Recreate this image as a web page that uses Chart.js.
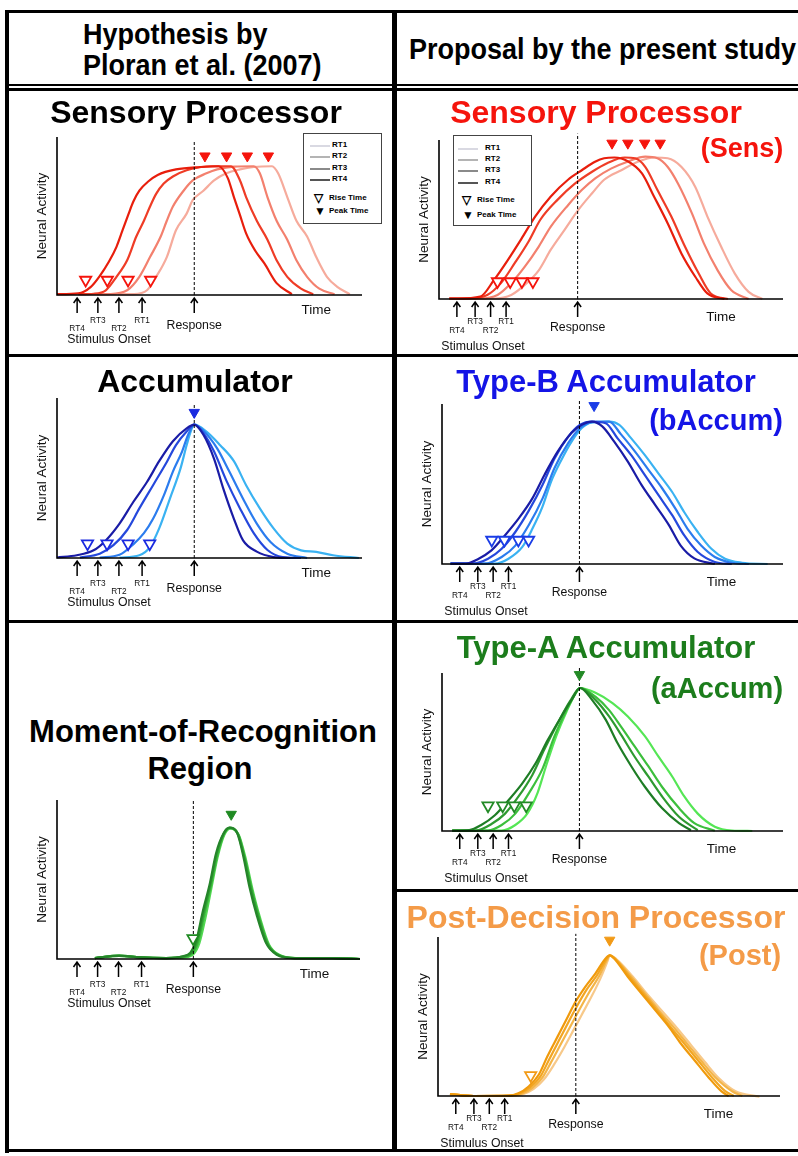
<!DOCTYPE html>
<html>
<head>
<meta charset="utf-8">
<script src="https://cdn.jsdelivr.net/npm/chart.js@4.4.1/dist/chart.umd.min.js"></script>
<style>
  body { margin: 0; background: #fff; }
  #fig { position: relative; width: 798px; height: 1156px; overflow: hidden; font-family: "Liberation Sans", Arial, Helvetica, sans-serif; }
  .ln { position: absolute; background: #000; z-index: 4; }
  .t { position: absolute; white-space: nowrap; font-weight: bold; line-height: 1; transform: translate(-50%, -50%); z-index: 3; }
  .h { position: absolute; white-space: nowrap; font-weight: bold; line-height: 1; font-size: 30px; transform-origin: left center; transform: translateY(-50%) scaleX(0.9); }
  canvas { position: absolute; z-index: 1; }
  .lg { position: absolute; border: 1px solid #444; background: #fff; z-index: 2; font-size: 8px; font-weight: bold; }
  .lg div { position: absolute; white-space: nowrap; line-height: 1; }
</style>
</head>
<body>
<div id="fig"></div>
<script>
// stimulus onset arrows and response time, in time units (0-100 of the time axis)
const rtLabels = ["RT4", "RT3", "RT2", "RT1"];
const leftOnsets = [6.6, 13.4, 20.3, 27.9];
const leftResponse = 45;
const rightOnsets = [5.2, 10.5, 15, 19.5];
const rightResponse = 40.3;

// Ploran: sensory processor
const sensLeftRT4 = [[0,0.5],[7,1],[11,5],[14,12],[17,21],[19.5,30.5],[21.5,41],[23.5,51.5],[25,59],[27,66],[30,72],[33,76],[39,79.5],[47,81],[53,81.5],[56,74],[58,62],[60,50.5],[62,39],[65,28],[68,20],[72,7.5],[77,0.5]];
const sensLeftRT3 = [[7,0.5],[12,0.8],[16,3],[19.5,11.5],[23,22],[26,37],[28.5,47],[30.5,56],[32.5,64],[35,70.5],[38,75],[42.5,79],[51,81.5],[57,81.5],[60,72.5],[62,62],[65.5,47],[69,35],[72,22],[75.5,11.5],[80,4],[84,0.5]];
const sensLeftRT2 = [[13,0.5],[17,0.6],[23,3],[27,11.5],[30.5,24],[34,37],[36,47],[38,56],[41.5,66],[44.5,72.5],[49,77],[52.5,79.5],[58,81.3],[64.5,81.5],[66.5,77],[69,62],[72,47],[75.5,35],[78.5,22],[82,11.5],[86,4],[91,0.5]];
const sensLeftRT1 = [[20,0.5],[25,0.6],[29.5,3],[32.5,11.5],[36,24],[39,41],[42.5,51.5],[44.5,60],[48,66],[51.5,72.5],[55.5,77],[60,79.5],[64.5,81],[70.5,81.5],[72.5,77],[75.5,62],[78.5,47],[82,37],[85,24],[88.5,11.5],[92,5],[96,0.5]];
const sensLeftRise = [9.4, 16.5, 23.3, 30.7];
const sensLeftPeak = [48.5, 55.6, 62.4, 69.3];

// Ploran: accumulator
const accLeftRT4 = [[0,0.3],[6.5,1.7],[12,4.8],[16,11],[20.5,21.5],[25,35],[29.5,47.5],[33.5,60.5],[38,73],[42.5,81],[45,83.3],[48,77],[51.5,62],[54.5,43.5],[58,24.5],[61,11],[65.5,4],[71,0.6],[76.5,0]];
const accLeftRT3 = [[7.5,0.3],[14,2.7],[18.5,8],[23,17.5],[27,31],[31.5,45.5],[36,60],[39,70.5],[42.5,79],[45,83.3],[48,78],[51.5,66.5],[55.5,48.5],[60,31],[64.5,15.5],[69,5],[74,0.6],[80,0]];
const accLeftRT2 = [[14,0.3],[20.5,2],[25,8.5],[28.5,15.5],[31.5,24.5],[35,39],[38,54],[41,66.5],[43,77],[45,83.3],[48,79.5],[52.5,68.5],[56.5,54],[61,37],[65.5,21.5],[70,10],[75.5,2.7],[82,0]];
const accLeftRT1 = [[20.5,0.3],[27,1.7],[30.5,7],[33.5,18.5],[37,37],[40.5,56],[42.5,70.5],[44,80],[45,83.3],[49,79],[53.5,70.5],[58,60.5],[62,45.5],[66.5,31],[71,18.5],[75.5,9],[80,4.8],[85,3.8],[90.5,1.7],[99,0]];
const accLeftRise = [10, 16.4, 23.3, 30.4];
const accLeftPeak = [45];

// Ploran: moment-of-recognition region
const morRT4 = [[12.5,0.6],[20.5,2],[27.5,1],[36,0.6],[41.5,1.7],[44,4],[46,12],[48,29],[50.5,48],[52.5,66.5],[55,79],[57,82.6],[59.5,79],[61.5,64.5],[63.5,45.5],[66,27],[69,10],[72.5,2.7],[78,0.6],[91,0.6],[100,0]];
const morRT3 = [[12.5,0.6],[20.5,2.1],[27.5,1],[36,0.6],[41.5,1.5],[44.3,3.8],[46.3,11.5],[48.3,28.5],[50.7,47.5],[52.7,66],[55,79],[57,82.6],[59.7,78.5],[61.8,64],[63.9,45],[66.4,26.5],[69.4,9.5],[73,2.6],[78.5,0.6],[91,0.6],[100,0]];
const morRT2 = [[12.5,0.6],[20.5,2.1],[27.5,1],[36,0.6],[41.8,1.2],[44.6,3.4],[46.6,10.8],[48.6,27.5],[50.8,46],[52.9,65],[55.1,78.5],[57.1,82.3],[59.9,78.2],[62,63.5],[64.2,44.5],[66.7,26.3],[69.7,9.3],[73.2,2.5],[78.7,0.6],[91,0.6],[100,0]];
const morRT1 = [[12.5,0.6],[20.5,2],[27.5,1],[36,0.6],[42,1],[45,3],[47,10],[49,26],[51,45],[53,64],[55.2,78],[57.2,82],[60,78],[62.3,63],[64.5,44],[67,26],[70,9],[73.5,2.5],[79,0.6],[91,0.6],[100,0]];
const morRise = [44.9];
const morPeak = [57.5];

// present study: sensory processor (Sens)
const sensRightRT4 = [[3,0.3],[5.5,0.3],[12,1.5],[16,12],[20,24.5],[24,38],[28,52],[32.5,64.5],[37.5,75],[41.5,81],[45.5,86.5],[48,88.5],[51,89],[55,86.5],[59,79],[62.5,64.5],[66.5,47.5],[70.5,28.5],[74.5,14],[78,3.5],[83,0]];
const sensRightRT3 = [[3,0.3],[9,0.3],[14,2.5],[18,10],[22,22.5],[26,36],[29.5,50],[34.5,62.5],[39.5,72.5],[44.5,80],[49,85.5],[54,89],[57,88.5],[60,83],[63.5,68.5],[67.5,52],[71.5,33],[75.5,16],[79,3.5],[84,0]];
const sensRightRT2 = [[3,0.3],[12,0.3],[17,2.5],[21,10],[25,20.5],[29,33],[32.5,45.5],[37.5,59],[41.5,68.5],[45.5,76],[50,82],[55,86.5],[60,89.5],[63.5,88.5],[66.5,83],[69.5,72.5],[73.5,54],[77,35],[81,18],[85,5.5],[90,0]];
const sensRightRT1 = [[3,0.3],[16,0.3],[21,2.5],[25,9],[29,18],[32.5,31],[36.5,43.5],[40.5,56],[44.5,66.5],[48,75],[53,81],[58,86.5],[62.5,89],[66.5,88.5],[70.5,83],[74.5,70.5],[78,52],[82,33],[86,16],[90,4.5],[94,0]];
const sensRightRise = [17, 20.7, 24.1, 27.3];
const sensRightPeak = [50.3, 54.9, 59.8, 64.3];

// present study: type-B accumulator (bAccum)
const bAccRT4 = [[2.5,0.2],[7,0.3],[10.5,3],[14.5,8.5],[18.5,18],[22.5,28.5],[26.5,41],[30,55.5],[34,70.5],[38,82],[41,87],[44,89],[47,86],[50.5,76.5],[54.5,64],[58.5,49.5],[62.5,37],[66.5,24.5],[70,11.5],[74,3.5],[80,0]];
const bAccRT3 = [[2.5,0.2],[9,0.2],[13.5,3.3],[17.5,9.5],[21.5,20],[25.5,33.5],[29.5,49.5],[33,66],[37,79.5],[40.5,87],[44,89],[48,88],[51.5,78.5],[55.5,68],[59.5,55.5],[63.5,43],[67.5,30.5],[71,18],[75,7.5],[80,1.3],[85,0]];
const bAccRT2 = [[2.5,0.2],[12.5,0.2],[17.5,4.4],[21.5,11.5],[25.5,24.5],[29.5,41],[33,60],[37,75.5],[40.5,85],[44,88.7],[49,89],[52.5,81],[56.5,70.5],[60.5,59],[64.5,47.5],[68.5,34.5],[72,22],[76,11.5],[80,4.4],[85,0.8],[90,0]];
const bAccRT1 = [[2.5,0.2],[15.5,0.2],[19.5,3.3],[23.5,10.5],[26.5,22],[29.5,36],[32,51.5],[35,65],[38,76.5],[41,85],[44,88.5],[49,89],[52,87],[55.5,78.5],[59.5,68],[63.5,56.5],[67.5,45],[71,32.5],[75,20],[79,9.5],[83,3.3],[88,0.8],[95.5,0]];
const bAccRise = [14.6, 18.3, 22.4, 25.4];
const bAccPeak = [44.6];

// present study: type-A accumulator (aAccum)
const aAccRT4 = [[3,0.3],[8,0.6],[11.5,3.8],[15.5,10],[19.5,19.5],[23.5,30],[27.5,43],[31,57.5],[35,72.5],[38,83],[40.5,90.5],[44,83],[48,70.5],[51.5,55.5],[55.5,41],[59.5,28],[64.5,14.5],[69.5,5],[73,0.5]];
const aAccRT3 = [[3,0.3],[10,0.3],[14.5,4.4],[18.5,11],[22.5,22],[26.5,35.5],[30,51.5],[34,68.5],[37.5,82],[40.5,90.5],[45,83],[49,72.5],[52.5,61],[56.5,47],[60.5,34.5],[64.5,22],[69.5,9],[75,0.5]];
const aAccRT2 = [[3,0.3],[13.5,0.3],[17.5,3.8],[21.5,11],[25.5,24],[29.5,39.5],[33,60],[36.5,76.5],[39,86.5],[40.5,90.5],[45,85],[49,76.5],[52.5,66],[56.5,53.5],[60.5,41],[64.5,28],[69.5,14.5],[74,5],[80,0.2]];
const aAccRT1 = [[3,0.3],[17.5,0.3],[21.5,3.8],[25,11],[28,24],[30.5,41],[33.5,60],[36.5,75.5],[39,86.5],[40.5,90.5],[45,87.5],[50,81],[54.5,72.5],[59.5,60],[63.5,47],[67.5,34.5],[71,22],[75,11],[80,2.7],[85,0.3],[91,0]];
const aAccRise = [13.5, 17.8, 21.2, 24.7];
const aAccPeak = [40.3];

// present study: post-decision processor (Post)
const postRT4 = [[3.5,1.2],[10.5,0],[20.5,0.2],[23.5,1.7],[26.5,6],[29.5,13.5],[32,25],[35,37.5],[38,50],[40,58.5],[43,68.5],[46,77],[49,86.5],[50.2,88.5],[51.5,86.5],[55.5,75],[59.5,64.5],[63.5,54],[67.5,43.5],[71,33],[75,22.5],[79,12],[83,2.7],[85,0]];
const postRT3 = [[3.5,1.2],[10.5,0],[21,0.2],[24,1.7],[27,5.5],[30,12.5],[32.5,23],[35.5,35.5],[38.5,48],[40.5,56],[43.5,67],[46.5,76],[49.2,86],[50.2,88.5],[51.7,86.5],[56,75],[60,64.5],[64,54],[68,43.5],[72,33],[76,22.5],[80,12],[84,3],[86.5,0]];
const postRT2 = [[3.5,1.2],[10.5,0],[21.5,0.2],[24.5,1.5],[27.5,5],[30.5,11.5],[33,21],[36,33],[39,45],[41,53],[44,64.5],[47,75],[49.4,85.5],[50.2,88.5],[52,86],[56.5,75],[60.5,64.5],[64.5,54],[69,43],[73,32.5],[77,22],[81,12],[86,3],[89,0]];
const postRT1 = [[3.5,1.2],[10.5,0],[22,0.2],[25,1.3],[28,4.5],[31,10.5],[34,20],[37,31],[40,43],[42,51],[45,63],[47.5,74],[49.6,85],[50.2,88.5],[52.2,86],[57,75],[61,64.5],[65.5,53.5],[70,42.5],[74,32],[78,21.5],[82,11.5],[87,3],[94,-0.5]];
const postRise = [27.1];
const postPeak = [50.2];

const fig = document.getElementById("fig");

function el(cls, css, text) {
  const d = document.createElement("div");
  d.className = cls;
  Object.assign(d.style, css);
  if (text) d.textContent = text;
  fig.appendChild(d);
  return d;
}

// frame lines
el("ln", { left: "5px", top: "10px", width: "793px", height: "3px" });
el("ln", { left: "5px", top: "10px", width: "4px", height: "1143px" });
el("ln", { left: "5px", top: "1149px", width: "793px", height: "3px" });
el("ln", { left: "392px", top: "10px", width: "5px", height: "1142px" });
el("ln", { left: "5px", top: "84px", width: "793px", height: "2px" });
el("ln", { left: "5px", top: "88px", width: "793px", height: "3px" });
el("ln", { left: "5px", top: "354px", width: "793px", height: "3px" });
el("ln", { left: "5px", top: "620px", width: "793px", height: "3px" });
el("ln", { left: "392px", top: "889px", width: "406px", height: "3px" });

// headers
el("h", { left: "83px", top: "34px" }, "Hypothesis by");
el("h", { left: "83px", top: "65px" }, "Ploran et al. (2007)");
el("h", { left: "409px", top: "49px" }, "Proposal by the present study");

function title(text, cx, cy, size, color) {
  el("t", { left: cx + "px", top: cy + "px", fontSize: size + "px", color: color }, text);
}
title("Sensory Processor", 196, 112, 32, "#000");
title("Accumulator", 195, 381, 32, "#000");
title("Moment-of-Recognition", 203, 731, 31, "#000");
title("Region", 200, 768, 31, "#000");
title("Sensory Processor", 596, 112, 32, "#f5140c");
title("(Sens)", 742, 148, 27, "#f5140c");
title("Type-B Accumulator", 606, 381, 31, "#1414e6");
title("(bAccum)", 716, 420, 29, "#1414e6");
title("Type-A Accumulator", 606, 647, 31, "#1c7d1c");
title("(aAccum)", 717, 688, 29, "#1c7d1c");
title("Post-Decision Processor", 596, 917, 32, "#f49b48");
title("(Post)", 740, 955, 29, "#f49b48");

// legends of the sensory panels
function legend(x, y, lineX, textX, rows) {
  const box = el("lg", { left: x + "px", top: y + "px", width: "77px", height: "89px" });
  const greys = ["#d9d9e2", "#b4b4b4", "#8a8a8a", "#555"];
  ["RT1", "RT2", "RT3", "RT4"].forEach((t, i) => {
    const l = document.createElement("div");
    Object.assign(l.style, { left: lineX + "px", top: rows[i] + "px", width: "20px", height: "0", borderTop: "2px solid " + greys[i] });
    box.appendChild(l);
    const tx = document.createElement("div");
    Object.assign(tx.style, { left: textX + "px", top: (rows[i] - 4) + "px" });
    tx.textContent = t;
    box.appendChild(tx);
  });
  [["\u25BD", "Rise Time", rows[4]], ["\u25BC", "Peak Time", rows[5]]].forEach(([sym, t, r]) => {
    const s = document.createElement("div");
    Object.assign(s.style, { left: (lineX + 4) + "px", top: (r - 6) + "px", fontSize: "12px" });
    s.textContent = sym;
    box.appendChild(s);
    const tx = document.createElement("div");
    Object.assign(tx.style, { left: (lineX + 19) + "px", top: (r - 4) + "px" });
    tx.textContent = t;
    box.appendChild(tx);
  });
}
legend(303, 133, 6, 28, [11, 22, 34, 45, 64, 77]);
legend(453, 135, 4, 31, [12, 23, 34, 46, 64, 79]);

function arrow(ctx, px, tip, tail) {
  ctx.beginPath();
  ctx.moveTo(px, tail);
  ctx.lineTo(px, tip + 1);
  ctx.moveTo(px - 3.5, tip + 5);
  ctx.lineTo(px, tip);
  ctx.lineTo(px + 3.5, tip + 5);
  ctx.stroke();
}

function decor(cfg) {
  return {
    id: "decor",
    afterDraw(chart) {
      const { ctx, chartArea: ca } = chart;
      const x = chart.scales.x;
      const lab = cfg.lab;
      ctx.save();
      ctx.strokeStyle = "#000";
      ctx.lineWidth = 1.6;
      ctx.beginPath();
      ctx.moveTo(ca.left, ca.top);
      ctx.lineTo(ca.left, ca.bottom);
      ctx.lineTo(ca.right, ca.bottom);
      ctx.stroke();
      ctx.lineWidth = 1.5;
      cfg.onsets.concat([cfg.response]).forEach(t => arrow(ctx, x.getPixelForValue(t), ca.bottom + 3, ca.bottom + 18));
      ctx.fillStyle = "#111";
      ctx.textAlign = "center";
      ctx.textBaseline = "middle";
      ctx.font = '8.3px "Liberation Sans", Arial, sans-serif';
      cfg.onsets.forEach((t, i) => {
        ctx.fillText(rtLabels[i], x.getPixelForValue(t), ca.bottom + (i % 2 ? lab.hiY : lab.loY));
      });
      ctx.font = '12.3px "Liberation Sans", Arial, sans-serif';
      ctx.fillText("Response", x.getPixelForValue(cfg.response), ca.bottom + lab.respY);
      ctx.fillText("Stimulus Onset", ca.left + lab.stimDx, ca.bottom + lab.stimY);
      ctx.font = '13.5px "Liberation Sans", Arial, sans-serif';
      ctx.fillText("Time", x.getPixelForValue(lab.timeT), ca.bottom + lab.timeY);
      ctx.translate(ca.left - 15, (ca.top + ca.bottom) / 2);
      ctx.rotate(-Math.PI / 2);
      ctx.font = '13.5px "Liberation Sans", Arial, sans-serif';
      ctx.fillText("Neural Activity", 0, 0);
      ctx.restore();
    }
  };
}

const leftLab = { loY: 34, hiY: 26, respY: 31, stimY: 45, stimDx: 52, timeT: 85, timeY: 15 };
const rightLab = { loY: 32, hiY: 23, respY: 29, stimY: 48, stimDx: 44, timeT: 82, timeY: 18 };

function pts(arr) { return arr.map(p => ({ x: p[0], y: p[1] })); }

function panel(cfg) {
  const [x0, x1, yTop, yBase] = cfg.rect;
  const padL = 40, padT = 14, padR = 25, padB = 62;
  const c = document.createElement("canvas");
  c.width = x1 - x0 + padL + padR;
  c.height = yBase - yTop + padT + padB;
  c.style.left = (x0 - padL) + "px";
  c.style.top = (yTop - padT) + "px";
  fig.appendChild(c);

  const datasets = [
    {
      data: cfg.peak.map(t => ({ x: t, y: cfg.peakA })),
      showLine: false, pointStyle: "triangle", rotation: 180, pointRadius: cfg.peakR || 6,
      backgroundColor: cfg.triColor, borderColor: cfg.triColor, borderWidth: 1, clip: false
    },
    {
      data: cfg.rise.map(t => ({ x: t, y: cfg.riseA })),
      showLine: false, pointStyle: "triangle", rotation: 180, pointRadius: cfg.riseR || 6.5,
      backgroundColor: "#fff", borderColor: cfg.triColor, borderWidth: 1.8, clip: false
    },
    {
      data: [{ x: cfg.response, y: 0 }, { x: cfg.response, y: cfg.dashTop }],
      borderColor: "#000", borderWidth: 1, borderDash: [3, 2], pointRadius: 0, tension: 0, clip: false
    }
  ];
  cfg.curves.forEach((cur, i) => {
    datasets.push({
      data: pts(cur), borderColor: cfg.colors[i], borderWidth: 2.2, pointRadius: 0,
      cubicInterpolationMode: "monotone", fill: false, clip: false
    });
  });

  new Chart(c, {
    type: "line",
    data: { datasets },
    options: {
      responsive: false,
      devicePixelRatio: 1,
      animation: false,
      layout: { padding: { left: padL, top: padT, right: padR, bottom: padB } },
      scales: {
        x: { type: "linear", min: 0, max: 100, display: false },
        y: { min: 0, max: 100, display: false }
      },
      plugins: { legend: { display: false }, tooltip: { enabled: false } }
    },
    plugins: [decor(cfg)]
  });
}

const redShades = ["#e81e0c", "#ef3c26", "#f3806e", "#f6ab9c"];
const blueShades = ["#1a1ca6", "#2548dc", "#2b7cee", "#3ab2f2"];
const greenShades = ["#1e7d25", "#2e9a30", "#3cbf3c", "#55e655"];
const morShades = ["#25852a", "#2f9c32", "#3bb83c", "#52d852"];
const orangeShades = ["#f09a0c", "#f2a623", "#f4b548", "#f7c98a"];

panel({ rect: [57, 362, 137, 295], curves: [sensLeftRT4, sensLeftRT3, sensLeftRT2, sensLeftRT1], colors: redShades,
  rise: sensLeftRise, riseA: 9.5, peak: sensLeftPeak, peakA: 88, triColor: "#f5140c",
  onsets: leftOnsets, response: leftResponse, dashTop: 98, lab: leftLab });
panel({ rect: [57, 362, 398, 558], curves: [accLeftRT4, accLeftRT3, accLeftRT2, accLeftRT1], colors: blueShades,
  rise: accLeftRise, riseA: 9, peak: accLeftPeak, peakA: 91, triColor: "#1a2ae0",
  onsets: leftOnsets, response: leftResponse, dashTop: 96, lab: leftLab });
panel({ rect: [57, 360, 800, 959], curves: [morRT4, morRT3, morRT2, morRT1], colors: morShades,
  rise: morRise, riseA: 13, peak: morPeak, peakA: 91, triColor: "#1f8a22",
  onsets: leftOnsets, response: leftResponse, dashTop: 100, lab: leftLab });
panel({ rect: [439, 783, 140, 299], curves: [sensRightRT4, sensRightRT3, sensRightRT2, sensRightRT1], colors: redShades,
  rise: sensRightRise, riseA: 11, peak: sensRightPeak, peakA: 98, triColor: "#f5140c",
  onsets: rightOnsets, response: rightResponse, dashTop: 104, lab: rightLab });
panel({ rect: [442, 783, 404, 564], curves: [bAccRT4, bAccRT3, bAccRT2, bAccRT1], colors: blueShades,
  rise: bAccRise, riseA: 15, peak: bAccPeak, peakA: 99, triColor: "#1a3ce6",
  onsets: rightOnsets, response: rightResponse, dashTop: 102, lab: rightLab });
panel({ rect: [442, 783, 673, 831], curves: [aAccRT4, aAccRT3, aAccRT2, aAccRT1], colors: greenShades,
  rise: aAccRise, riseA: 16, peak: aAccPeak, peakA: 99, triColor: "#238a26",
  onsets: rightOnsets, response: rightResponse, dashTop: 104, lab: rightLab });
panel({ rect: [438, 780, 937, 1096], curves: [postRT4, postRT3, postRT2, postRT1], colors: orangeShades,
  rise: postRise, riseA: 13, peak: postPeak, peakA: 98, triColor: "#f29a16",
  onsets: rightOnsets, response: rightResponse, dashTop: 102, lab: rightLab });
</script>
</body>
</html>
